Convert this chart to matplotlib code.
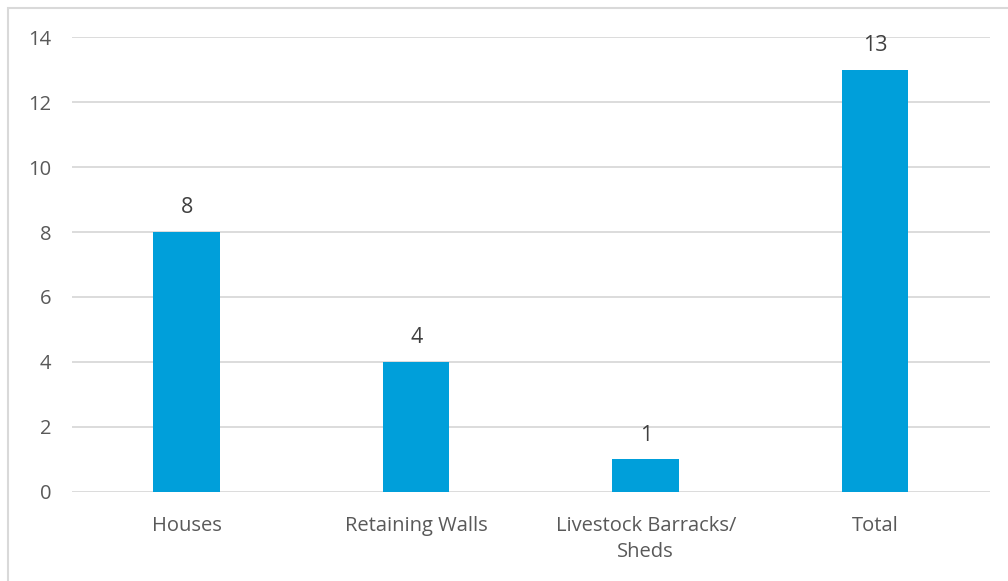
import matplotlib.pyplot as plt
from matplotlib.patches import Rectangle

# data
categories = ['Houses', 'Retaining Walls', 'Livestock Barracks/\nSheds', 'Total']
counts = [8, 4, 1, 13]

plt.rcParams['font.family'] = ['Open Sans', 'DejaVu Sans']
txt = '#595959'

fig = plt.figure(figsize=(10.08, 5.81), dpi=100)
ax = fig.add_axes([0.0714, 0.1532, 0.9107, 0.7831])

x = list(range(len(categories)))
bars = ax.bar(x, counts, width=0.29, color='#009FDA', zorder=3)
for b, v in zip(bars, counts):
    ax.text(b.get_x() + b.get_width() / 2, v + 0.42, str(v), ha='center', va='bottom',
            fontsize=15.5, color='#404040')

ax.set_xlim(-0.5, 3.5)
ax.set_ylim(0, 14)
ax.set_yticks(range(0, 15, 2))
ax.set_xticks(x)
ax.set_xticklabels(categories, fontsize=14.5, color=txt, linespacing=1.45)
ax.tick_params(axis='y', labelsize=14.5, labelcolor=txt, length=0, pad=15)
ax.tick_params(axis='x', length=0, pad=17)
ax.grid(axis='y', color='#D9D9D9', linewidth=1.3, zorder=0)
for s in ax.spines.values():
    s.set_visible(False)

# outer chart border
fig.patches.append(Rectangle((8 / 1008, -0.01), 1.02, 1 - 8 / 581 + 0.01, transform=fig.transFigure,
                             fill=False, edgecolor='#D9D9D9', linewidth=1.5))

fig.savefig('out.png', dpi=100)
